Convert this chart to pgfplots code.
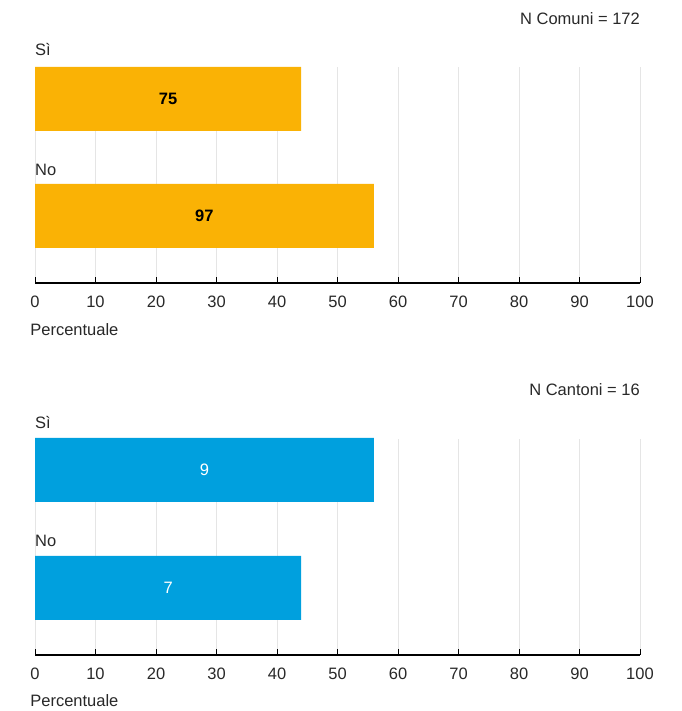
\documentclass[border=0pt]{standalone}
\usepackage{fontspec}
\setmainfont{Liberation Sans}
\usepackage{pgfplots}
\pgfplotsset{compat=1.18}
\definecolor{bsorange}{RGB}{250,178,5}
\definecolor{bsblue}{RGB}{0,160,222}
\definecolor{gridgray}{RGB}{229,229,229}
\definecolor{txt}{RGB}{40,40,40}
\newcommand{\fsz}{\fontsize{16.5}{19}\selectfont}
\pgfplotsset{panel/.style={
  width=605pt, height=216pt, scale only axis,
  xmin=0, xmax=100, ymin=0, ymax=216,
  xtick={0,10,...,100}, xmajorgrids, grid style={gridgray, line width=0.9pt},
  axis x line*=bottom, hide y axis,
  x axis line style={-, line width=1.2pt, black},
  xtick align=inside, major tick length=6pt, xtick style={black, line width=1pt},
  xticklabel style={font=\fsz, text=txt, yshift=-9pt},
  /pgf/number format/assume math mode=true,
  clip=false, xbar, bar width=64pt,
}}
\begin{document}
\begin{tikzpicture}
\useasboundingbox (0,0) rectangle (681pt,711pt);
% top panel
\begin{axis}[panel, at={(35pt,428pt)}, anchor=south west]
\addplot[draw=none, fill=bsorange] coordinates {(44,184) (56,67)};
\node[anchor=west, inner sep=0, font=\fsz, text=txt] at (axis cs:0,233) {Sì};
\node[anchor=west, inner sep=0, font=\fsz, text=txt] at (axis cs:0,113) {No};
\node[font=\fsz\bfseries, text=black] at (axis cs:22,184) {75};
\node[font=\fsz\bfseries, text=black] at (axis cs:28,67) {97};
\node[anchor=east, inner sep=0, font=\fsz, text=txt] at (axis cs:100,264) {N Comuni = 172};
\node[anchor=west, inner sep=0, font=\fsz, text=txt] at (axis cs:-0.8,-47) {Percentuale};
\end{axis}
% bottom panel
\begin{axis}[panel, at={(35pt,56pt)}, anchor=south west]
\addplot[draw=none, fill=bsblue] coordinates {(56,185) (44,67)};
\node[anchor=west, inner sep=0, font=\fsz, text=txt] at (axis cs:0,232) {Sì};
\node[anchor=west, inner sep=0, font=\fsz, text=txt] at (axis cs:0,114) {No};
\node[font=\fsz, text=white] at (axis cs:28,185) {9};
\node[font=\fsz, text=white] at (axis cs:22,67) {7};
\node[anchor=east, inner sep=0, font=\fsz, text=txt] at (axis cs:100,265) {N Cantoni = 16};
\node[anchor=west, inner sep=0, font=\fsz, text=txt] at (axis cs:-0.8,-46) {Percentuale};
\end{axis}
\end{tikzpicture}
\end{document}
